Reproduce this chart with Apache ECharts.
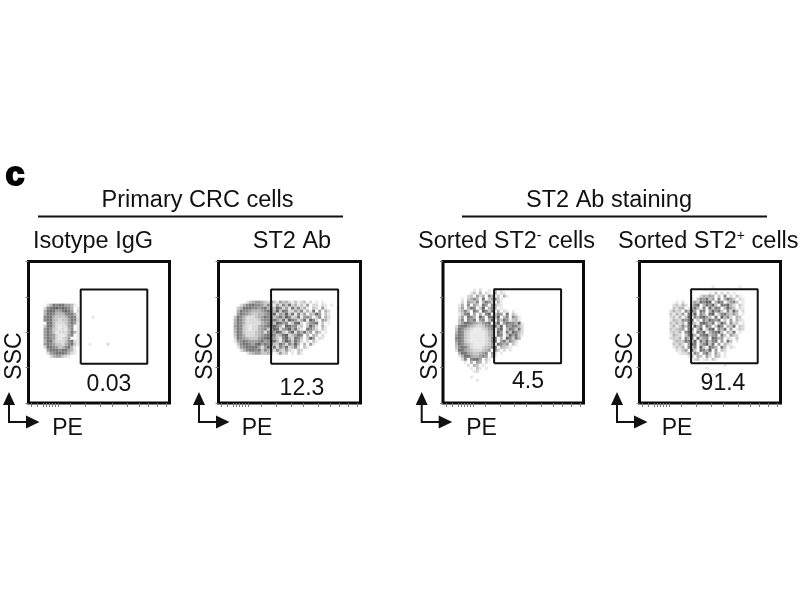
<!DOCTYPE html>
<html><head><meta charset="utf-8">
<script src="https://cdn.jsdelivr.net/npm/echarts@6/dist/echarts.min.js"></script>
<style>html,body{margin:0;background:#fff}#c{width:800px;height:600px;filter:blur(0.55px)}</style>
</head><body><div id="c"></div>
<script>
// Panel names and gate percentages
const panelNames = ['Isotype IgG', 'ST2 Ab', 'Sorted ST2- cells', 'Sorted ST2+ cells'];
const gateValues = ['0.03', '12.3', '4.5', '91.4'];
// Gates in axis units [x0, y0, x1, y1]
const gates = [[17.4,13,39.6,37.7],[17.4,13,39.6,37.7],[17.1,13.2,39.5,37.8],[17.2,13.2,39.4,37.8]];
// Density clouds: [first column, first row], then rows of darkness 1-9
const cloudStart = [[4,14],[5,13],[4,9],[10,10]];
const cloudIsotype = [
"  2476775541",
" 2678878764 1",
" 4787557875 2",
" 477644467741",
" 677433346761",
" 677432335762",
"  77422235751",
" 3774212256 1",
" 5763212146 1",
" 576312224741",
" 5765211256 1",
" 576521235  1",
" 477422236721",
" 576533246731",
" 27765346741",
"  5777677541",
"  2567776421",
"   2455321"
];
const cloudSt2 = [
"    13455432631534213123 2 1 1",
"  24677665364152637241315 22 21",
" 347776656747386251736241 32 51",
" 47665444567748376225361417 5 42",
" 57654334456782548371625 4385 31",
"37642223457683574862371564 36 42",
"4764222235668753738652471862 541",
"47642222245683875613782 3567 3 1",
"57632122456788641875623 3852 41",
"47632122456368725684731 7642 31",
"47632223452675873158264735 53 1",
"37642223456786347823576 4 43 2",
"27654333567875316842763 385 21",
"15676555675687415863752 2 31",
" 367765785768337526484 4 51",
" 156777752583726472362 31",
"  246776736452632521 32",
"    134553342 1523 1 31"
];
const cloudSorted1 = [
"      1 2  1 3 1",
"     13 4 21 4 21",
"    23 524 64 3 41",
"  1 3464 7 35631",
"  2 5436 4753 41",
" 14 6 53 75 6421",
" 25 476 38 463 1",
" 2463 75 8637 4 21 1",
" 1367 5 4 68 365 7 31",
" 25 764 85 7738 46 641",
" 36 657 56 48 63751341",
" 35776543567 48 5766481",
"2677543223567738 657642",
"3764321112356 68 476372",
"4763211111245 85 738642",
"5763211111245 76 385731",
"67632111112367 4 86374",
"57632111112367 573642",
"4764321111235 7645 31",
"36764211123467 4321",
"277543222345 63 2 1",
" 4775433456 52 1",
" 1477544565 41",
"  26 6775 31",
"   1 4 54 2",
"    2 43 1",
"     1 31 1",
"      12"
];
const cloudSorted2 = [
"             1 3 2 2 1",
"          24354 3 6 2 31",
"       1 365735 6 4753 21",
"  1 2  2537688 476 3563 1",
" 23142 368 47583 76842 31",
" 3244 1574 6 8376 4853 21",
"2423 6485 76 48573 6284 2",
"31425 738 64 78 3674353 1",
"2314 38 647853 7 8462 43",
"14326578 3 648657 3 5 421",
"32424 853 78647 385 623 1",
"2413637 846 75 386 437 32",
"32345 76 48 378 647 5 132",
"2324 683 758 46783 427 1",
"1432 3784 678356 73 532",
"2324 647 8356 8745 21 3",
" 24337638 748367 5 73 1",
" 3242 587 46837 5 421",
" 1324 646 83 764 73 21",
"  2135 73 7648 5 32",
"   1224 64 573 52 1",
"      13 43 52 43 1",
"        23 12 31"
];
const clouds = [cloudIsotype, cloudSt2, cloudSorted1, cloudSorted2];
// Isolated events: [column, row, darkness]
const strays = [
 [[26,27,2],[20,27,1],[21,18,1]],
 [[37,14,1],[39,15,1]],
 [[9,38,1],[11,39,1]],
 [[24,8,1],[33,8,1],[28,34,1],[22,35,1]]
];
// Logarithmic axis tick positions
const xTicks = [1,3,5,6,7,8,9,10,14,19,24,28,33,37,40,43,46];
const yTicks = [0,11.75,23.5,35.25,47];
// Colours for each darkness step
const greys = ['#fff','#e4e4e4','#cfcfcf','#b8b8b8','#a0a0a0','#868686','#6c6c6c','#525252','#3c3c3c','#262626'];

// Panel frames in page pixels
const frames = [[28.5,169.5],[218.5,360.5],[443,583.5],[639.5,780.5]];
const arrowX = [0,190,412.7,608];
const ink = '#111', frameInk = '#0a0a0a';
const font = '"Liberation Sans", Arial, sans-serif';

function points(i){
  const out = [];
  const [c0,r0] = cloudStart[i];
  clouds[i].forEach((row,r)=>{
    [...row].forEach((ch,c)=>{
      if(ch!==' ') out.push({value:[c0+c+0.5, 47-(r0+r)-0.5], itemStyle:{color:greys[+ch]}});
    });
  });
  strays[i].forEach(s=>out.push({value:[s[0]+0.5,47-s[1]-0.5],itemStyle:{color:greys[s[2]]}}));
  return out;
}
const grids=[],xAxes=[],yAxes=[],series=[];
frames.forEach((f,i)=>{
  grids.push({left:f[0],width:f[1]-f[0],top:261.5,height:141.5,show:true,borderColor:frameInk,borderWidth:3,backgroundColor:'transparent'});
  xAxes.push({gridIndex:i,type:'value',min:0,max:47,axisLine:{show:false},splitLine:{show:false},axisLabel:{show:false},
    axisTick:{show:true,customValues:xTicks,length:4,lineStyle:{color:'#777',width:1}}});
  yAxes.push({gridIndex:i,type:'value',min:0,max:47,axisLine:{show:false},splitLine:{show:false},axisLabel:{show:false},
    axisTick:{show:true,customValues:yTicks,length:3,lineStyle:{color:'#777',width:1}}});
  series.push({type:'scatter',xAxisIndex:i,yAxisIndex:i,symbol:'rect',symbolSize:3,silent:true,data:points(i),z:2});
  const g=gates[i];
  series.push({type:'line',xAxisIndex:i,yAxisIndex:i,symbol:'none',silent:true,z:5,
    lineStyle:{color:ink,width:2},
    data:[[g[0],g[1]],[g[2],g[1]],[g[2],g[3]],[g[0],g[3]],[g[0],g[1]]]});
});

const txt=(text,x,y,size,extra)=>Object.assign({type:'text',x:x,y:y,z:10,silent:true,
  style:Object.assign({text:text,font:`${size}px ${font}`,fill:ink,align:'center',verticalAlign:'middle'},extra||{})});
const sup={fill:ink,font:`14px ${font}`,verticalAlign:'top',lineHeight:26};
const norm={font:`23.5px ${font}`,fill:ink};
const graphic=[
  txt('c',15,175.5,34,{font:`900 34px ${font}`,fill:'#000',stroke:'#000',lineWidth:2}),
  txt('Primary CRC cells',197.5,201,23.5),
  txt('ST2 Ab staining',609,201,23.5),
  {type:'line',z:10,silent:true,shape:{x1:38,y1:216.5,x2:343,y2:216.5},style:{stroke:ink,lineWidth:2}},
  {type:'line',z:10,silent:true,shape:{x1:462,y1:216.5,x2:767,y2:216.5},style:{stroke:ink,lineWidth:2}},
  txt(panelNames[0],93,242,23.5),
  txt(panelNames[1],292,242,23.5),
  {type:'text',x:418,y:242,z:10,silent:true,style:{text:'{n|Sorted ST2}{s|-}{n| cells}',verticalAlign:'middle',rich:{n:norm,s:sup}}},
  {type:'text',x:618,y:242,z:10,silent:true,style:{text:'{n|Sorted ST2}{s|+}{n| cells}',verticalAlign:'middle',rich:{n:norm,s:sup}}},
  txt(gateValues[0],109,385,23),
  txt(gateValues[1],302,389,23),
  txt(gateValues[2],528,382,23),
  txt(gateValues[3],723,384,23)
];
[15,206,431,626].forEach(x=>{const t=txt('SSC',x,356,23);t.rotation=Math.PI/2;graphic.push(t);});
[67.5,257,481.5,677].forEach(x=>graphic.push(txt('PE',x,429,23)));
arrowX.forEach(dx=>{
  graphic.push({type:'polyline',z:10,silent:true,shape:{points:[[9+dx,402],[9+dx,422],[29+dx,422]]},style:{stroke:'#111',lineWidth:2,fill:'none'}});
  graphic.push({type:'polygon',z:10,silent:true,shape:{points:[[9+dx,392],[15+dx,405],[3+dx,405]]},style:{fill:'#111'}});
  graphic.push({type:'polygon',z:10,silent:true,shape:{points:[[39.5+dx,422],[26+dx,428.5],[26+dx,415.5]]},style:{fill:'#111'}});
});

const chart=echarts.init(document.getElementById('c'),null,{renderer:'canvas'});
chart.setOption({animation:false,backgroundColor:'#fff',grid:grids,xAxis:xAxes,yAxis:yAxes,series:series,graphic:graphic});
</script></body></html>
